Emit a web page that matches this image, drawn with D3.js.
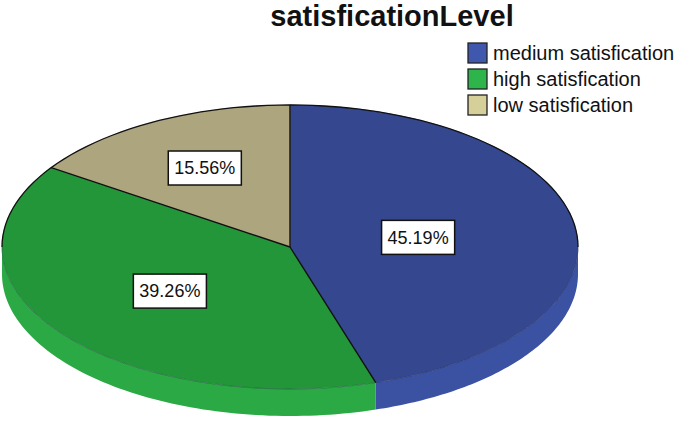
<!DOCTYPE html>
<html>
<head>
<meta charset="utf-8">
<script src="https://cdn.jsdelivr.net/npm/d3@7"></script>
<style>
	html, body { margin: 0; padding: 0; background: #fff; }
	svg { display: block; font-family: "Liberation Sans", Arial, sans-serif; }
</style>
</head>
<body>
<svg width="685" height="421"></svg>
<script>
// Chart data
const title = "satisficationLevel";
const categories = ["medium satisfication", "high satisfication", "low satisfication"];
const percents = [45.19, 39.26, 15.56];
const topColors = ["#34478f", "#24963a", "#aca57e"];		// shaded top of the pie
const sideColors = ["#3b51a1", "#2ba944", "#bab38a"];		// the rim
const legendColors = ["#3f58ad", "#2db44a", "#d5cf99"];

// How far out (as a fraction of the radius) each label sits
const labelRadius = [0.45, 0.52, 0.63];

document.addEventListener("DOMContentLoaded", function() {
	renderPie();
});

function renderPie() {
	const svg = d3.select("svg");

	const cx = 290, cy = 247;		// centre of the top ellipse
	const rx = 288, ry = 142;		// the radii of the ellipse
	const depth = 27;				// thickness of the pie

	// Slices start at 12 o'clock and run clockwise, in data order
	const pie = d3.pie().sort(null).value(d => d)(percents);

	// Point on the ellipse for an angle measured clockwise from the top
	const px = a => cx + rx * Math.sin(a);
	const py = a => cy - ry * Math.cos(a);
	const line = d3.line();

	// Points along the ellipse between two angles
	function ellipsePoints(a0, a1) {
		const angle = d3.scaleLinear().domain([0, 80]).range([a0, a1]);
		return d3.range(81).map(k => [px(angle(k)), py(angle(k))]);
	}

	// The rim: only the front half (angles between 90 and 270 degrees) shows
	pie.forEach((d, i) => {
		const s0 = Math.max(d.startAngle, Math.PI / 2);
		const s1 = Math.min(d.endAngle, 3 * Math.PI / 2);
		if (s0 >= s1) return;
		const top = ellipsePoints(s0, s1);
		const bottom = top.slice().reverse().map(p => [p[0], p[1] + depth]);
		svg.append("path")
		   .attr("d", line(top.concat(bottom)) + "Z")
		   .attr("fill", sideColors[i]);
	});

	// The top surface: a circle arc squashed into the ellipse
	const arc = d3.arc().innerRadius(0).outerRadius(rx);
	const topG = svg.append("g")
					.attr("transform", `translate(${cx},${cy}) scale(1,${ry / rx})`);
	topG.selectAll("path")
		.data(pie)
		.enter()
		.append("path")
		.attr("d", arc)
		.attr("fill", (d, i) => topColors[i])
		.attr("stroke", (d, i) => topColors[i])
		.attr("stroke-width", 0.6)
		.attr("vector-effect", "non-scaling-stroke");

	// faint edge between the top and the rim at the front
	svg.append("path")
	   .attr("d", line(ellipsePoints(Math.PI / 2, 3 * Math.PI / 2)))
	   .attr("fill", "none")
	   .attr("stroke", "#14203f")
	   .attr("stroke-opacity", 0.3)
	   .attr("stroke-width", 1);

	// dark outline along the back half of the pie
	svg.append("path")
	   .attr("d", line(ellipsePoints(-Math.PI / 2, Math.PI / 2)))
	   .attr("fill", "none")
	   .attr("stroke", "#111")
	   .attr("stroke-width", 1.3);

	// black lines between the slices
	pie.forEach(d => {
		svg.append("line")
		   .attr("x1", cx).attr("y1", cy)
		   .attr("x2", px(d.startAngle)).attr("y2", py(d.startAngle))
		   .attr("stroke", "#111")
		   .attr("stroke-width", 1.4);
	});

	// Percent labels in white boxes
	pie.forEach((d, i) => {
		const mid = (d.startAngle + d.endAngle) / 2;
		const x = cx + labelRadius[i] * rx * Math.sin(mid);
		const y = cy - labelRadius[i] * ry * Math.cos(mid);
		const g = svg.append("g").attr("transform", `translate(${x},${y})`);
		const box = g.append("rect");
		const t = g.append("text")
				   .attr("text-anchor", "middle")
				   .attr("dy", "0.35em")
				   .attr("font-size", 18)
				   .attr("fill", "#111")
				   .text(d3.format(".2f")(percents[i]) + "%");
		const w = t.node().getComputedTextLength() + 12;
		box.attr("x", -w / 2).attr("y", -17)
		   .attr("width", w).attr("height", 34)
		   .attr("fill", "#fff")
		   .attr("stroke", "#111")
		   .attr("stroke-width", 1.5);
	});

	// Title
	svg.append("text")
	   .attr("x", 392)
	   .attr("y", 26)
	   .attr("text-anchor", "middle")
	   .attr("font-size", 29)
	   .attr("font-weight", "bold")
	   .attr("fill", "#111")
	   .text(title);

	// Legend
	const legend = svg.append("g").attr("transform", "translate(468,43)");
	const item = legend.selectAll("g")
					   .data(categories)
					   .enter()
					   .append("g")
					   .attr("transform", (d, i) => `translate(0,${i * 26})`);
	item.append("rect")
		.attr("width", 19)
		.attr("height", 20)
		.attr("fill", (d, i) => legendColors[i])
		.attr("stroke", "#222")
		.attr("stroke-width", 1.3);
	item.append("text")
		.attr("x", 25)
		.attr("y", 17)
		.attr("font-size", 20)
		.attr("fill", "#111")
		.text(d => d);
}
</script>
</body>
</html>
